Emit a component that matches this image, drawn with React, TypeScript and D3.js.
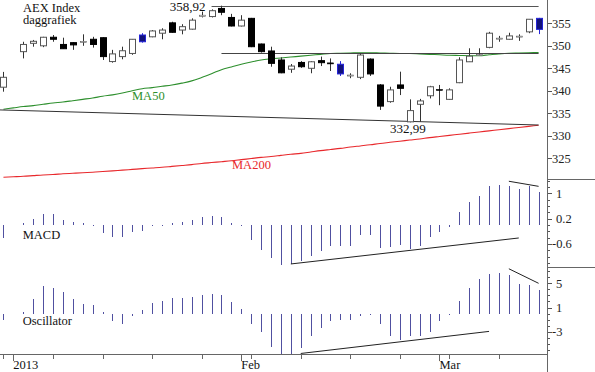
import * as d3 from 'd3'

const W = 595
const H = 372

// trading days Dec 31 2012 .. Mar 15 2013 (weekdays; Jan 1 has no quote)
const FIRST_DAY = new Date(2012, 11, 31)
const LAST_DAY = new Date(2013, 2, 15)

const OPEN = [340.8, null, 348.7, 350.55, 350.0, 351.9, 350.3, 350.7, 350.9, 351.45, 351.8, 346.5, 347.6, 348.3, 352.4, 352.0, 352.8, 355.1, 353.5, 353.7, 356.5, 356.5, 358.3, 356.3, 354.4, 356.1, 350.4, 348.85, 346.85, 344.8, 346.3, 345.0, 346.7, 346.2, 345.9, 343.4, 343.0, 347.05, 341.3, 337.6, 341.3, 333.1, 337.0, 338.9, 340.3, 338.1, 341.8, 346.45, 347.9, 349.65, 351.6, 351.45, 352.05, 353.1, 356.1]
const HIGH = [344.2, null, 350.9, 351.3, 352.0, 352.4, 351.8, 350.8, 352.55, 352.0, 351.9, 349.1, 349.8, 351.5, 352.8, 353.5, 353.9, 355.35, 354.8, 356.1, 357.6, 358.1, 358.92, 357.1, 356.8, 356.2, 350.5, 349.8, 347.45, 345.95, 346.6, 346.6, 347.6, 347.2, 346.6, 343.9, 348.3, 347.2, 341.5, 340.9, 344.25, 338.1, 338.2, 341.1, 341.3, 340.55, 347.45, 349.45, 349.45, 353.1, 352.2, 352.9, 352.55, 355.9, 356.2]
const LOW = [339.8, null, 347.2, 349.8, 349.7, 350.9, 349.3, 349.1, 350.0, 349.6, 346.85, 346.25, 347.0, 348.0, 350.7, 351.9, 351.45, 352.9, 352.55, 353.6, 356.3, 356.3, 356.8, 354.3, 354.3, 349.7, 348.5, 345.35, 343.9, 344.0, 345.1, 343.9, 345.5, 344.4, 343.3, 342.8, 342.6, 343.3, 335.75, 337.35, 339.05, 332.99, 333.1, 338.3, 336.8, 338.0, 341.7, 346.4, 347.9, 349.45, 350.9, 351.4, 351.1, 352.8, 352.6]
const CLOSE = [343.0, null, 350.3, 351.0, 351.9, 351.45, 349.35, 350.2, 351.0, 350.3, 347.6, 348.2, 348.9, 351.45, 350.9, 353.3, 353.5, 353.0, 354.25, 355.7, 356.8, 357.8, 357.45, 354.4, 355.7, 349.8, 348.7, 346.1, 344.0, 345.5, 345.35, 346.45, 346.25, 346.1, 343.75, 343.5, 347.95, 343.75, 336.6, 340.2, 340.55, 335.6, 337.75, 340.9, 340.2, 340.2, 346.85, 347.7, 348.05, 352.8, 351.7, 352.2, 352.15, 355.9, 353.65]
const HIGHLIGHT = [14, 34, 54]

const MA50 = [335.9, 336.2, 336.5, 336.7, 337.0, 337.3, 337.5, 337.8, 338.1, 338.4, 338.8, 339.1, 339.5, 340.0, 340.45, 340.7, 341.0, 341.3, 341.7, 342.2, 342.95, 343.8, 344.7, 345.3, 345.9, 346.4, 346.85, 347.1, 347.3, 347.5, 347.7, 347.9, 348.1, 348.3, 348.35, 348.4, 348.45, 348.45, 348.4, 348.35, 348.3, 348.3, 348.2, 348.1, 348.0, 347.9, 347.85, 347.8, 347.8, 348.0, 348.2, 348.35, 348.4, 348.45, 348.5]
const MA200 = [320.8, 320.9, 321.0, 321.15, 321.3, 321.4, 321.55, 321.67, 321.8, 321.9, 322.05, 322.2, 322.37, 322.53, 322.7, 322.85, 323.0, 323.2, 323.4, 323.6, 323.85, 324.05, 324.25, 324.45, 324.7, 324.95, 325.2, 325.4, 325.65, 325.9, 326.1, 326.4, 326.7, 326.95, 327.2, 327.5, 327.75, 328.0, 328.3, 328.55, 328.8, 329.05, 329.3, 329.6, 329.85, 330.1, 330.35, 330.6, 330.85, 331.1, 331.35, 331.6, 331.85, 332.1, 332.35]

const MACD = [-0.42, null, 0.03, 0.19, 0.35, 0.35, 0.16, 0.08, 0.05, -0.03, -0.25, -0.39, -0.39, -0.23, -0.18, -0.02, -0.02, 0.02, 0.08, 0.17, 0.24, 0.29, 0.26, 0.03, -0.04, -0.48, -0.78, -1.05, -1.26, -1.23, -1.14, -0.97, -0.81, -0.65, -0.65, -0.65, -0.33, -0.33, -0.74, -0.69, -0.62, -0.77, -0.66, -0.37, -0.21, -0.07, 0.42, 0.72, 0.9, 1.22, 1.26, 1.22, 1.14, 1.22, 1.03]
const OSC = [-1.0, null, 0.3, 2.45, 4.5, 4.3, 3.5, 2.35, 1.55, 1.4, 0.05, -1.3, -1.8, -0.4, 0.55, 1.8, 2.1, 2.6, 2.6, 2.8, 3.1, 3.2, 3.05, 1.9, 0.7, -1.65, -3.05, -5.55, -7.2, -7.0, -5.7, -3.75, -2.35, -1.25, -1.0, -1.1, -0.4, -0.25, -1.8, -3.75, -4.4, -3.75, -3.75, -3.1, -1.25, -0.2, 2.0, 4.2, 5.7, 6.5, 6.75, 6.35, 4.85, 4.7, 3.9]

const PRICE_TICKS = [325, 330, 335, 340, 345, 350, 355]
const MACD_TICKS = [-0.6, 0.2, 1]
const OSC_TICKS = [-3, 1, 5]
const MONTH_TICKS = [new Date(2013, 0, 1), new Date(2013, 1, 1), new Date(2013, 2, 1)]
const MONTH_LABELS = ['2013', 'Feb', 'Mar']

// annotations, in (day index, value)
const PEAK = 358.92
const PEAK_FROM = 21
const LEVEL = 348.33
const LEVEL_FROM = 22
const BOTTOM = 332.99
const BOTTOM_AT = 41
const SUPPORT = [[-0.35, 335.75], [54, 332.4]]
const MACD_LINES = [[[29, -1.23], [52, -0.41]], [[51, 1.38], [54, 1.22]]]
const OSC_LINES = [[[30, -6.6], [49, -2.95]], [[51, 7.4], [54, 5.0]]]

const FONT = "'Liberation Serif', 'Times New Roman', serif"
const BAR = '#5050a0'

export default function App() {
  const days = d3.timeDay
    .range(FIRST_DAY, d3.timeDay.offset(LAST_DAY, 1))
    .filter(d => d.getDay() !== 0 && d.getDay() !== 6)
  const last = days.length - 1

  const x = d3.scaleLinear().domain([0, last]).range([3.45, 538.6])
  const axisX = 547.5
  const bottomY = 354.5

  const yP = d3.scaleLinear().domain([325, 355]).range([158.3, 23.3])
  const yM = d3.scaleLinear().domain([-0.6, 1]).range([244, 193.3])
  const yO = d3.scaleLinear().domain([-3, 5]).range([331.7, 283.3])

  const idx = (d: Date) => days.findIndex(t => +t === +d)
  const weekTicks = days.map((d, i) => (d.getDay() === 1 ? i : -1)).filter(i => i >= 0)
  const monthIdx = MONTH_TICKS.map(idx)

  const ma = (vals: number[]) =>
    d3.line<number>().x((_, i) => x(i)).y(v => yP(v)).curve(d3.curveMonotoneX)(vals) ?? ''

  const bars = (vals: (number | null)[], y: d3.ScaleLinear<number, number>, clip: string) => (
    <g clipPath={`url(#${clip})`} shapeRendering="crispEdges">
      {vals.map((v, i) => {
        if (v == null) return null
        const px = Math.round(x(i)) + 0.5
        const y0 = y(0)
        let y1 = y(v)
        if (Math.abs(y1 - y0) < 1.2) y1 = y0 + (v >= 0 ? -1.5 : 1.5)
        return <line key={i} x1={px} x2={px} y1={y0} y2={y1} stroke={BAR} strokeWidth={1.2} />
      })}
    </g>
  )

  const segs = (lines: number[][][], y: d3.ScaleLinear<number, number>) =>
    lines.map((l, k) => (
      <line key={k} x1={x(l[0][0])} y1={y(l[0][1])} x2={x(l[1][0])} y2={y(l[1][1])} stroke="#222" strokeWidth={1} />
    ))

  const rightTicks = (
    ticks: number[],
    minor: number[],
    y: d3.ScaleLinear<number, number>,
    fmt: (v: number) => string,
    indent: boolean
  ) => (
    <g>
      {minor.map((v, i) => (
        <line key={'m' + i} x1={axisX} x2={axisX + 2.5} y1={Math.round(y(v)) + 0.5} y2={Math.round(y(v)) + 0.5} stroke="#555" />
      ))}
      {ticks.map(v => (
        <g key={v}>
          <line x1={axisX} x2={axisX + 4} y1={Math.round(y(v)) + 0.5} y2={Math.round(y(v)) + 0.5} stroke="#555" />
          <text x={indent && v >= 0 ? 556 : 552} y={y(v)} dy="0.35em" fontSize={12.5} fill="#222">
            {fmt(v)}
          </text>
        </g>
      ))}
    </g>
  )

  return (
    <svg
      width={W}
      height={H}
      viewBox={`0 0 ${W} ${H}`}
      style={{ position: 'absolute', left: 0, top: 0, background: '#fff', fontFamily: FONT }}
    >
      <defs>
        <clipPath id="cp-price"><rect x={0} y={0} width={axisX} height={179} /></clipPath>
        <clipPath id="cp-macd"><rect x={0} y={179.5} width={axisX} height={87} /></clipPath>
        <clipPath id="cp-osc"><rect x={0} y={267} width={axisX} height={bottomY - 267} /></clipPath>
      </defs>
      <rect x={0} y={0} width={W} height={H} fill="#fff" />

      {/* price panel */}
      <g clipPath="url(#cp-price)">
        <path d={ma(MA200)} fill="none" stroke="#e8282c" strokeWidth={1.1} />
        <path d={ma(MA50)} fill="none" stroke="#2d8f2d" strokeWidth={1.1} />
        <line x1={x(SUPPORT[0][0])} y1={yP(SUPPORT[0][1])} x2={x(SUPPORT[1][0])} y2={yP(SUPPORT[1][1])} stroke="#333" strokeWidth={1} />
        <line x1={x(PEAK_FROM)} x2={x(last)} y1={Math.round(yP(PEAK)) + 0.5} y2={Math.round(yP(PEAK)) + 0.5} stroke="#555" strokeWidth={1} />
        <line x1={x(LEVEL_FROM)} x2={x(last)} y1={Math.round(yP(LEVEL)) + 0.5} y2={Math.round(yP(LEVEL)) + 0.5} stroke="#444" strokeWidth={1} />

        {OPEN.map((o, i) => {
          const c = CLOSE[i]
          const h = HIGH[i]
          const l = LOW[i]
          if (o == null || c == null || h == null || l == null) return null
          const cx = Math.round(x(i)) + 0.5
          const hl = HIGHLIGHT.includes(i)
          const up = c >= o
          const top = yP(Math.max(o, c))
          const hgt = Math.max(1, Math.abs(yP(o) - yP(c)))
          const fill = hl ? '#12127a' : up ? '#fff' : '#000'
          const stroke = hl ? '#2424d8' : up ? '#555' : '#000'
          return (
            <g key={i}>
              <line x1={cx} x2={cx} y1={yP(h)} y2={yP(l)} stroke={hl ? '#2424d8' : '#333'} strokeWidth={1} />
              <rect x={cx - 3} y={top} width={6} height={hgt} fill={fill} stroke={stroke} strokeWidth={hgt < 1.5 ? 0.6 : 1} />
            </g>
          )
        })}
      </g>

      <text x={23} y={11.5} fontSize={12.5} fill="#111">AEX Index</text>
      <text x={23} y={24} fontSize={12.5} fill="#111">daggrafiek</text>
      <text x={x(PEAK_FROM) - 6} y={11} fontSize={13} textAnchor="end" fill="#111">{'358,92'}</text>
      <text x={x(BOTTOM_AT) - 2} y={yP(BOTTOM) + 11} fontSize={13} textAnchor="middle" fill="#111">{'332,99'}</text>
      <text x={132} y={100} fontSize={12.5} fill="#2d8f2d">MA50</text>
      <text x={232} y={168.5} fontSize={12.5} fill="#e8282c">MA200</text>

      {/* MACD panel */}
      {bars(MACD, yM, 'cp-macd')}
      {segs(MACD_LINES, yM)}
      <text x={22.7} y={239} fontSize={12.5} fill="#111">MACD</text>

      {/* oscillator panel */}
      {bars(OSC, yO, 'cp-osc')}
      {segs(OSC_LINES, yO)}
      <text x={22.7} y={325} fontSize={12.5} fill="#111">Oscillator</text>

      {/* frame */}
      <g shapeRendering="crispEdges">
        <line x1={axisX} x2={axisX} y1={0} y2={H} stroke="#666" />
        <line x1={0} x2={axisX} y1={bottomY} y2={bottomY} stroke="#666" />
        <line x1={axisX} x2={W} y1={179.5} y2={179.5} stroke="#666" />
        <line x1={axisX} x2={W} y1={267.5} y2={267.5} stroke="#666" />
        {rightTicks(PRICE_TICKS, [], yP, v => String(v), false)}
        {rightTicks(MACD_TICKS, d3.range(-1.2, 1.41, 0.2), yM, v => String(v), true)}
        {rightTicks(OSC_TICKS, d3.range(-6, 7.1, 1), yO, v => String(v), true)}
        {weekTicks.map(i => (
          <line key={'w' + i} x1={Math.round(x(i)) + 0.5} x2={Math.round(x(i)) + 0.5} y1={bottomY} y2={bottomY + 4} stroke="#666" />
        ))}
        {monthIdx.map(i => (
          <line key={'mo' + i} x1={Math.round(x(i)) + 0.5} x2={Math.round(x(i)) + 0.5} y1={bottomY} y2={bottomY + 6} stroke="#666" />
        ))}
      </g>
      {monthIdx.map((i, k) => (
        <text key={'ml' + k} x={x(i)} y={368.5} fontSize={12.5} fill="#111">{MONTH_LABELS[k]}</text>
      ))}
    </svg>
  )
}
